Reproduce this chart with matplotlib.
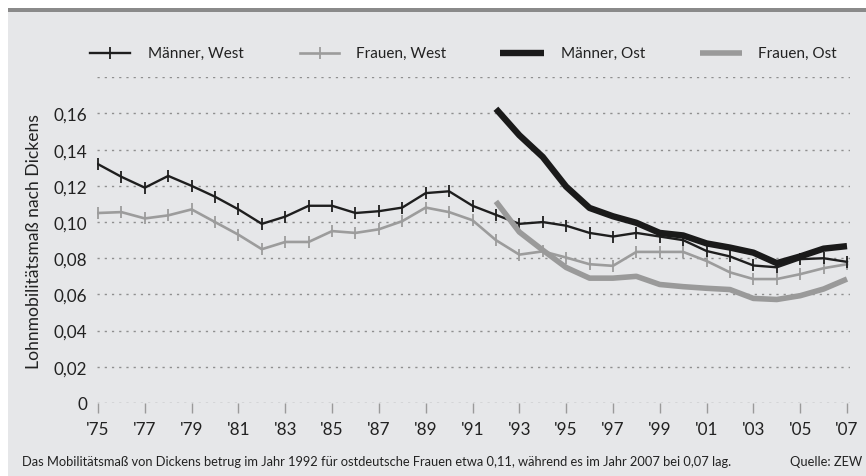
import matplotlib
matplotlib.use("Agg")
import matplotlib.pyplot as plt
from matplotlib.lines import Line2D
from matplotlib.patches import Rectangle

years_west = list(range(1975, 2008))
maenner_west = [0.132, 0.125, 0.119, 0.1255, 0.120, 0.114, 0.107, 0.099, 0.103, 0.109,
                0.109, 0.105, 0.106, 0.108, 0.116, 0.117, 0.109, 0.104, 0.099, 0.100,
                0.098, 0.094, 0.092, 0.094, 0.092, 0.090, 0.084, 0.081, 0.076, 0.075,
                0.0795, 0.080, 0.078]
frauen_west = [0.105, 0.1055, 0.102, 0.1037, 0.107, 0.100, 0.093, 0.085, 0.089, 0.089,
               0.095, 0.094, 0.096, 0.1005, 0.108, 0.1055, 0.101, 0.090, 0.082, 0.0838,
               0.0804, 0.0767, 0.0758, 0.0835, 0.0835, 0.0835, 0.0785, 0.0722, 0.0685,
               0.0685, 0.0712, 0.0745, 0.0767]
years_ost = list(range(1992, 2008))
maenner_ost = [0.1626, 0.148, 0.136, 0.1196, 0.1078, 0.1032, 0.0996, 0.094, 0.0926,
               0.0882, 0.0859, 0.0831, 0.0773, 0.081, 0.0853, 0.0867]
frauen_ost = [0.1114, 0.0945, 0.0845, 0.0749, 0.069, 0.069, 0.0700, 0.0655, 0.0643,
              0.0634, 0.0627, 0.0578, 0.0572, 0.0593, 0.063, 0.0685]

yticks = [0, 0.02, 0.04, 0.06, 0.08, 0.10, 0.12, 0.14, 0.16]
ytick_labels = ["0", "0,02", "0,04", "0,06", "0,08", "0,10", "0,12", "0,14", "0,16"]
xticks = list(range(1975, 2008, 2))
xtick_labels = ["'" + str(y)[2:] for y in xticks]
series_labels = ["Männer, West", "Frauen, West", "Männer, Ost", "Frauen, Ost"]
ylabel = "Lohnmobilitätsmaß nach Dickens"
caption = ("Das Mobilitätsmaß von Dickens betrug im Jahr 1992 für ostdeutsche Frauen "
           "etwa 0,11, während es im Jahr 2007 bei 0,07 lag.")
source = "Quelle: ZEW"

plt.rcParams['font.family'] = ['Lato', 'DejaVu Sans']

W, H = 866, 477
fig = plt.figure(figsize=(W / 100, H / 100), dpi=100, facecolor='white')

def fx(px):
    return px / W

def fy(py):
    return 1 - py / H

# background panel and top bar
fig.add_artist(Rectangle((fx(8), 0), 1 - fx(8), fy(13), transform=fig.transFigure,
                         facecolor='#e6e7e9', edgecolor='none', zorder=0))
fig.add_artist(Rectangle((fx(8), fy(13)), 1 - fx(8), fy(9) - fy(13), transform=fig.transFigure,
                         facecolor='#8a8a8a', edgecolor='none', zorder=0))

left, right, top, bottom = 97, 850, 78.3, 404
ax = fig.add_axes([fx(left), fy(bottom), fx(right) - fx(left), fy(top) - fy(bottom)])
ax.set_facecolor('none')
ppy = (847 - 98) / 32.0
ax.set_xlim(1975 - (98 - left) / ppy, 2007 + (right - 847) / ppy)
ax.set_ylim(0, 0.18)

grid_vals = [0, 0.02, 0.04, 0.06, 0.08, 0.10, 0.12, 0.14, 0.16, 0.18]
for g in grid_vals:
    ax.axhline(g, color='#8f8f8f', lw=1.0, ls=(0, (1.6, 3.6)), zorder=1)

ax.plot(years_west, maenner_west, color='#1e1e1e', lw=1.7, marker='|', ms=9, mew=1.3,
        zorder=3, solid_joinstyle='round')
ax.plot(years_west, frauen_west, color='#9c9c9c', lw=1.9, marker='|', ms=9, mew=1.3,
        zorder=2, solid_joinstyle='round')
ax.plot(years_ost, maenner_ost, color='#1a1a1a', lw=4.6, zorder=4,
        solid_capstyle='butt', solid_joinstyle='round')
ax.plot(years_ost, frauen_ost, color='#9a9a9a', lw=4.0, zorder=5,
        solid_capstyle='butt', solid_joinstyle='round')

for s in ax.spines.values():
    s.set_visible(False)
ax.set_yticks(yticks)
ax.set_yticklabels(ytick_labels)
ax.set_xticks(xticks)
ax.set_xticklabels(xtick_labels)
ax.tick_params(axis='y', length=0, pad=7, labelsize=12.3, labelcolor='#222222')
ax.tick_params(axis='x', length=7, width=1, color='#9a9a9a', pad=6, labelsize=12.3,
               labelcolor='#222222', direction='out')
ax.set_ylabel(ylabel, fontsize=12.6, color='#222222', labelpad=8)

# legend
leg_y = fy(54)
items = [
    (90, 130, 148, dict(color='#1e1e1e', lw=1.7), True),
    (300, 339, 356, dict(color='#9c9c9c', lw=1.9), True),
    (500, 544, 561, dict(color='#1a1a1a', lw=4.6, solid_capstyle='butt'), False),
    (700, 742, 758, dict(color='#9a9a9a', lw=4.0, solid_capstyle='butt'), False),
]
for (x0, x1, xt, kw, mk), lab in zip(items, series_labels):
    fig.add_artist(Line2D([fx(x0), fx(x1)], [leg_y, leg_y], transform=fig.transFigure, **kw))
    if mk:
        fig.add_artist(Line2D([fx((x0 + x1) / 2)], [leg_y], transform=fig.transFigure,
                              marker='|', ms=9, mew=1.3, color=kw['color'], lw=0))
    fig.text(fx(xt), leg_y, lab, fontsize=11, color='#222222', va='center', ha='left')

fig.text(fx(22), fy(462), caption, fontsize=9.3, color='#222222', va='center', ha='left')
fig.text(fx(862), fy(462), source, fontsize=9.3, color='#222222', va='center', ha='right')

fig.savefig('out.png', dpi=100, facecolor='white')
